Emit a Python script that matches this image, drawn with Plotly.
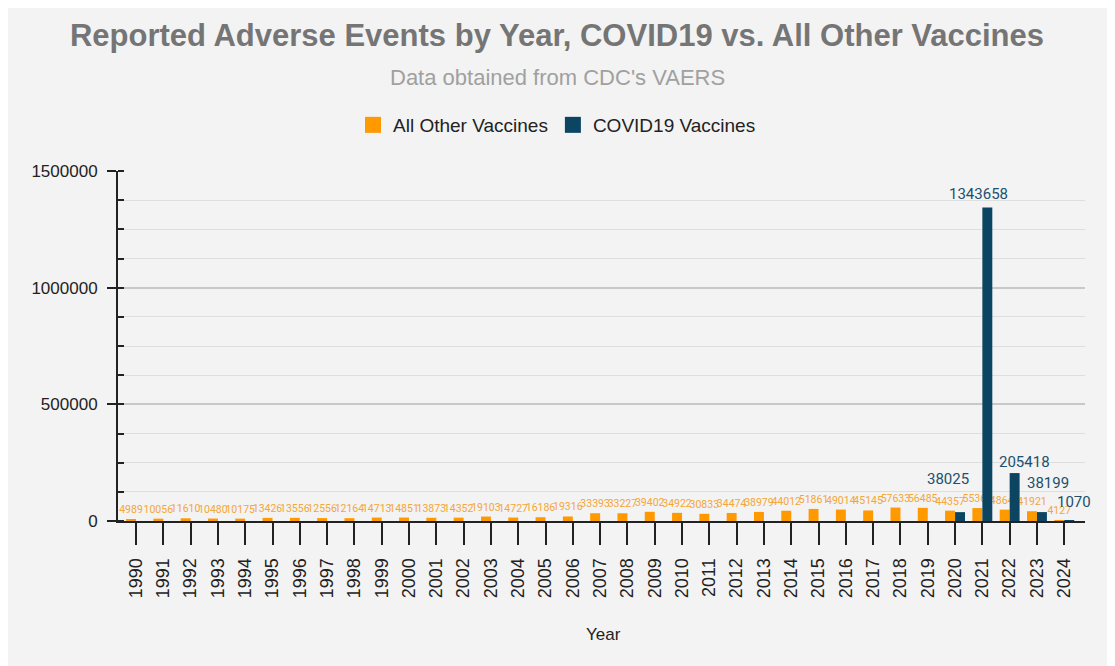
import plotly.graph_objects as go

years = list(range(1990, 2025))
other_vaccines = [4989, 10056, 11610, 10480, 10175, 13426, 13556, 12556, 12164, 14713,
                  14851, 13873, 14352, 19103, 14727, 16186, 19316, 33393, 33227, 39402,
                  34922, 30833, 34474, 38979, 44012, 51861, 49014, 45145, 57633, 56485,
                  44357, 55362, 48648, 41921, 4127]
covid_years = [2020, 2021, 2022, 2023, 2024]
covid_vaccines = [38025, 1343658, 205418, 38199, 1070]
covid_full = [covid_vaccines[covid_years.index(y)] if y in covid_years else None for y in years]

ORANGE = "#ff9900"
BLUE = "#0b4562"
BG = "#f3f3f3"

W, H = 1107, 658  # page body has an 8px margin

fig = go.Figure()
fig.add_trace(go.Bar(
    x=years, y=other_vaccines, name="All Other Vaccines", showlegend=False,
    marker=dict(color=ORANGE, line=dict(width=0)),
    text=[str(v) for v in other_vaccines], textposition="outside", textangle=0,
    constraintext="none", cliponaxis=False,
    textfont=dict(family="Roboto", size=10.5, color="#f4a637"),
))
fig.add_trace(go.Bar(
    x=years, y=covid_full, name="COVID19 Vaccines", showlegend=False,
    marker=dict(color=BLUE, line=dict(width=0)),
))
# legend entries with larger square swatches
fig.add_trace(go.Scatter(x=[None], y=[None], mode="markers", name="All Other Vaccines",
                         marker=dict(symbol="square", size=18, color=ORANGE)))
fig.add_trace(go.Scatter(x=[None], y=[None], mode="markers", name="COVID19 Vaccines",
                         marker=dict(symbol="square", size=18, color=BLUE)))

# COVID labels (nudged like the original to avoid overlaps)
label_shift = {2020: (-7, 33), 2021: (-4, 13), 2022: (15, 11), 2023: (11, 29), 2024: (10, 19)}
for yr, v in zip(covid_years, covid_vaccines):
    dx, dy = label_shift[yr]
    fig.add_annotation(x=yr, y=v, xref="x", yref="y", text=str(v), showarrow=False,
                       xshift=dx, yshift=dy, xanchor="center", yanchor="middle",
                       font=dict(family="Roboto", size=15, color="#1d4f6e"))

fig.add_annotation(text="Data obtained from CDC's VAERS", xref="paper", yref="paper",
                   x=(557 - 118) / 967, y=(521 - 78) / 350, showarrow=False,
                   xanchor="center", yanchor="middle",
                   font=dict(family="Liberation Sans", size=22, color="#a0a0a0"))
fig.add_annotation(text="Year", xref="paper", yref="paper",
                   x=(603 - 118) / 967, y=(521 - 634) / 350, showarrow=False,
                   xanchor="center", yanchor="middle",
                   font=dict(family="Liberation Sans", size=17, color="#222222"))

fig.update_layout(
    width=W, height=H,
    paper_bgcolor=BG, plot_bgcolor=BG,
    margin=dict(l=110, r=30, t=163, b=145),
    barmode="group", bargap=0.27, bargroupgap=0,
    title=dict(text="<b>Reported Adverse Events by Year, COVID19 vs. All Other Vaccines</b>",
               x=(557 - 8) / W, xref="container", xanchor="center",
               y=1 - 27 / H, yref="container", yanchor="middle",
               font=dict(family="Liberation Sans", size=31, color="#757575")),
    legend=dict(orientation="h", xref="container", yref="container",
                x=(557 - 8) / W, xanchor="center", y=1 - 117 / H, yanchor="middle",
                font=dict(family="Liberation Sans", size=19, color="#222222"),
                bgcolor="rgba(0,0,0,0)"),
    font=dict(family="Liberation Sans", color="#222222"),
    showlegend=True,
)
fig.update_xaxes(
    range=[1989.34, 2024.76], tickmode="array", tickvals=years, ticktext=[str(y) for y in years],
    tickangle=-90, ticks="outside", ticklen=22, tickcolor="#222222", tickwidth=1.5,
    showline=True, linecolor="#222222", linewidth=2, showgrid=False, zeroline=False,
    ticklabelstandoff=6,
    tickfont=dict(family="Liberation Sans", size=18, color="#222222"),
)
fig.update_yaxes(
    range=[0, 1500000], tickvals=[0, 500000, 1000000, 1500000],
    ticks="outside", ticklen=9, tickcolor="#222222", tickwidth=2,
    showline=True, linecolor="#222222", linewidth=2,
    showgrid=True, gridcolor="#c8c8c8", gridwidth=1.5, zeroline=False,
    tickformat="d", ticklabelstandoff=6,
    tickfont=dict(family="Liberation Sans", size=17, color="#222222"),
    minor=dict(dtick=125000, showgrid=True, gridcolor="#dedede", gridwidth=1,
               ticks="inside", ticklen=6, tickcolor="#222222", tickwidth=1.5),
)

fig.write_html("out.html")
